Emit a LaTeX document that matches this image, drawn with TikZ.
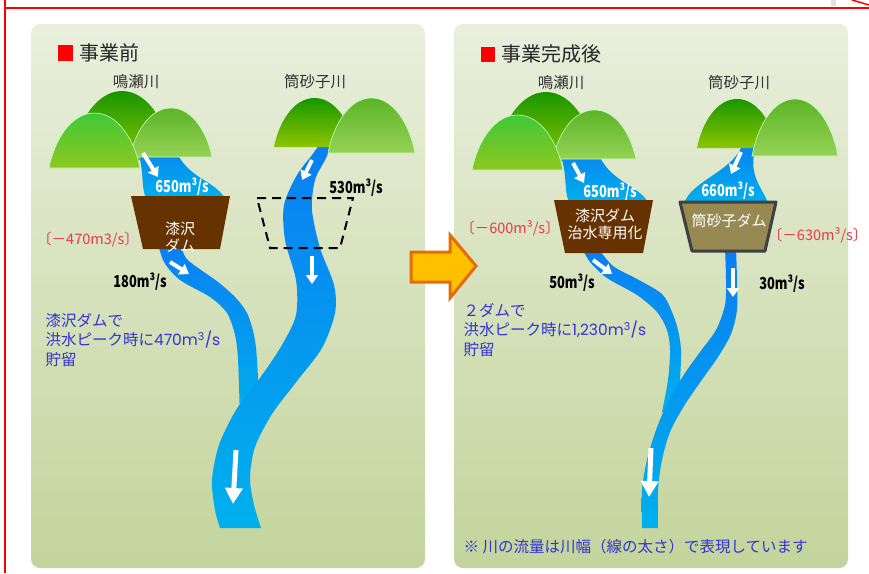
\documentclass[tikz,border=0pt]{standalone}
\usepackage{fontspec}
\setmainfont{Noto Sans CJK JP}
\newfontfamily\numfont{Noto Sans CJK JP}[FakeStretch=0.78]
\newfontfamily\latinfont{Poppins}
\usetikzlibrary{arrows.meta}

\definecolor{panelTop}{RGB}{233,239,220}
\definecolor{panelBot}{RGB}{195,212,156}
\definecolor{waterDeep}{RGB}{10,126,242}
\definecolor{waterLight}{RGB}{0,176,236}
\definecolor{damBrown}{RGB}{102,51,0}
\definecolor{damOlive}{RGB}{150,138,82}
\definecolor{noteBlue}{RGB}{51,51,210}
\definecolor{cutRed}{RGB}{232,56,80}
\definecolor{arrowFill}{RGB}{255,192,0}
\definecolor{arrowEdge}{RGB}{228,108,10}

% dome: style, left x, right x, top y, base y
\newcommand{\dome}[5]{%
  \path[#1] (#2,#5) .. controls ({#2+0.06*(#3-#2)},{#5-0.5*(#5-#4)}) and ({(#2+#3)/2-0.26*(#3-#2)},#4) .. ({(#2+#3)/2},#4)
    .. controls ({(#2+#3)/2+0.26*(#3-#2)},#4) and ({#3-0.06*(#3-#2)},{#5-0.5*(#5-#4)}) .. (#3,#5) -- cycle;}

\begin{document}
\begin{tikzpicture}[x=1pt, y=-1pt,
    panel/.style={rounded corners=9pt, top color=panelTop, bottom color=panelBot},
    backdome/.style={top color={rgb,255:red,24;green,150;blue,0}, bottom color={rgb,255:red,140;green,198;blue,0}},
    frontdome/.style={top color={rgb,255:red,64;green,200;blue,56}, bottom color={rgb,255:red,142;green,200;blue,30}, draw=white!75!green, line width=0.6pt},
    sidedome/.style={top color={rgb,255:red,92;green,180;blue,40}, bottom color={rgb,255:red,150;green,210;blue,84}, draw=white!75!green, line width=0.6pt},
    water/.style={top color=waterDeep, bottom color=waterLight},
    flow/.style={white, line width=4pt, -{Triangle[width=12pt,length=9pt]}},
    bigflow/.style={white, line width=5pt, -{Triangle[width=17pt,length=16pt]}},
    rate/.style={font=\numfont\bfseries\fontsize{16.5}{16}\selectfont},
    cut/.style={text=cutRed, font=\fontsize{14.5}{15}\selectfont},
    rivername/.style={text=black!80, font=\fontsize{15.5}{16}\selectfont},
    title/.style={anchor=west, text=black!85, font=\fontsize{20}{20}\selectfont},
    note/.style={anchor=west, text=noteBlue, align=left, font=\fontsize{15.5}{19.5}\selectfont},
    damtext/.style={white, align=center, font=\fontsize{15}{17}\selectfont}]

    % Page and frame
    \fill[white] (0,0) rectangle (869,573);
    \useasboundingbox (0,0) rectangle (869,573);
    \fill[black!12] (831,0) rectangle (836,6);
    \draw[red, line width=2pt] (4.5,0) -- (4.5,573);
    \draw[red, line width=2pt] (4.5,7.5) -- (869,7.5);
    \draw[red, line width=1.5pt] (852,0) -- (869,5);

    % Panels
    \path[panel] (31,24) rectangle (425,568);
    \path[panel] (454,24) rectangle (848,568);

    % ---------- before ----------
    \fill[red] (58,45) rectangle (73,61);
    \node[title] (titleL) at (76,53) {事業前};
    \node[rivername] (naruseL) at (136,82) {鳴瀬川};
    \node[rivername] (tsutsuL) at (315,82) {筒砂子川};

    \dome{backdome}{70}{174}{91}{160}

    % Water
    \path[water] (134,140) .. controls (146,170) and (140,185) .. (146,198) -- (225,198)
        .. controls (212,178) and (182,178) .. (172,140) -- cycle;
    \path[water] plot[smooth] coordinates {(157,240) (164,262) (180,280) (210,297) (227,313) (235,335) (238,360) (240,420)}
        -- plot[smooth] coordinates {(260,420) (257,360) (254,335) (247,313) (235,297) (218,282) (201,270) (186,258) (179,240)} -- cycle;
    \path[water] plot[smooth] coordinates {(324,138) (312,155) (297,175) (284,205) (285,240) (296,280) (296,315) (282,345) (260,378) (236,410) (219,445) (212,480) (215,510) (220,528)}
        -- plot[smooth] coordinates {(261,528) (254,505) (250,478) (255,447) (272,414) (297,381) (322,348) (335,313) (334,285) (320,248) (312,210) (315,180) (326,158) (334,138)} -- cycle;

    % Mountains
    \dome{sidedome}{130}{212}{108}{157}
    \dome{frontdome}{49}{140}{113}{168}
    \dome{backdome}{274}{355}{98}{147}
    \dome{sidedome}{328}{415}{98}{153}

    % Dams
    \fill[damBrown] (131,196) -- (230,196) -- (220,249) -- (143,249) -- cycle;
    \node[damtext] (damL) at (180,237) {漆沢\\ダム};
    \draw[black, line width=2pt, dash pattern=on 9pt off 6pt] (257,198) -- (353,198) -- (340,248) -- (270,248) -- cycle;

    % Flow arrows
    \draw[flow] (143,153) -- (158,177);
    \draw[flow] (312,160) -- (302,180);
    \draw[flow] (312,256) -- (312,284);
    \draw[flow] (170,262) -- (189,274);
    \draw[bigflow] (236,450) -- (233,504);

    % Labels
    \node[rate, white] (qNaruseL) at (182,187) {650m³/s};
    \node[rate] (qTsutsuL) at (356,188) {530m³/s};
    \node[rate] (qOutL) at (140,282) {180m³/s};
    \node[cut] (cutL) at (88,240) {〔－470m3/s〕};
    \node[note] (noteL) at (42,340) {漆沢ダムで\\洪水ピーク時に{\latinfont 470m\textsuperscript{3}/s}\\貯留};

    % ---------- after ----------
    \fill[red] (481,47) rectangle (495,62);
    \node[title] (titleR) at (498,54) {事業完成後};
    \node[rivername] (naruseR) at (561,83) {鳴瀬川};
    \node[rivername] (tsutsuR) at (739,83) {筒砂子川};

    \dome{backdome}{494}{598}{92}{161}

    % Water
    \path[water] (557,144) .. controls (569,174) and (563,189) .. (569,202) -- (648,202)
        .. controls (635,182) and (605,182) .. (595,144) -- cycle;
    \path[water] (744,138) .. controls (740,170) and (690,180) .. (684,204) -- (768,204)
        .. controls (765,190) and (742,172) .. (760,138) -- cycle;
    \path[water] plot[smooth] coordinates {(582,248) (590,262) (607,278) (637,295) (657,312) (667,330) (670,350) (668,380) (662,412)}
        -- plot[smooth] coordinates {(677,412) (680,380) (681,350) (678,330) (672,312) (662,294) (637,279) (613,266) (598,248)} -- cycle;
    \path[water] plot[smooth] coordinates {(725,248) (726,280) (725,305) (716,330) (700,352) (683,376) (668,402) (656,430) (647,460) (642,490) (642,528)}
        -- plot[smooth] coordinates {(658,528) (658,490) (662,460) (670,432) (684,406) (701,381) (718,357) (731,334) (737,310) (737,280) (736,248)} -- cycle;

    % Mountains
    \dome{sidedome}{553}{636}{110}{159}
    \dome{frontdome}{472}{563}{115}{170}
    \dome{backdome}{697}{777}{99}{148}
    \dome{sidedome}{752}{838}{99}{156}

    % Dams
    \fill[damBrown] (554,200) -- (653,200) -- (643,253) -- (565,253) -- cycle;
    \node[damtext] (damR) at (605,224) {漆沢ダム\\治水専用化};
    \draw[fill=damOlive, draw=black!75, line width=3pt, line join=round] (680,202) -- (776,202) -- (765,251) -- (692,251) -- cycle;
    \node[damtext] (damT) at (729,221) {筒砂子ダム};

    % Flow arrows
    \draw[flow] (573,163) -- (584,183);
    \draw[flow] (741,152) -- (731,174);
    \draw[flow] (593,260) -- (612,274);
    \draw[flow] (733,268) -- (733,297);
    \draw[bigflow] (651,448) -- (649,497);

    % Labels
    \node[rate, white] (qNaruseR) at (610,192) {650m³/s};
    \node[rate, white] (qTsutsuR) at (728,191) {660m³/s};
    \node[rate] (qOutR) at (572,283) {50m³/s};
    \node[rate] (qOutT) at (782,284) {30m³/s};
    \node[cut] (cutR) at (510,228) {〔－600m³/s〕};
    \node[cut, anchor=east] (cutT) at (871,235) {〔－630m³/s〕};
    \node[note] (noteR) at (460,330) {２ダムで\\洪水ピーク時に{\latinfont 1,230m\textsuperscript{3}/s}\\貯留};
    \node[note] (footnote) at (460,547) {※ 川の流量は川幅（線の太さ）で表現しています};

    % Before -> after
    \draw[fill=arrowFill, draw=arrowEdge, line width=3pt, line join=miter]
        (411,252) -- (450,252) -- (450,235) -- (476,266) -- (450,298) -- (450,282) -- (411,282) -- cycle;
\end{tikzpicture}
\end{document}
